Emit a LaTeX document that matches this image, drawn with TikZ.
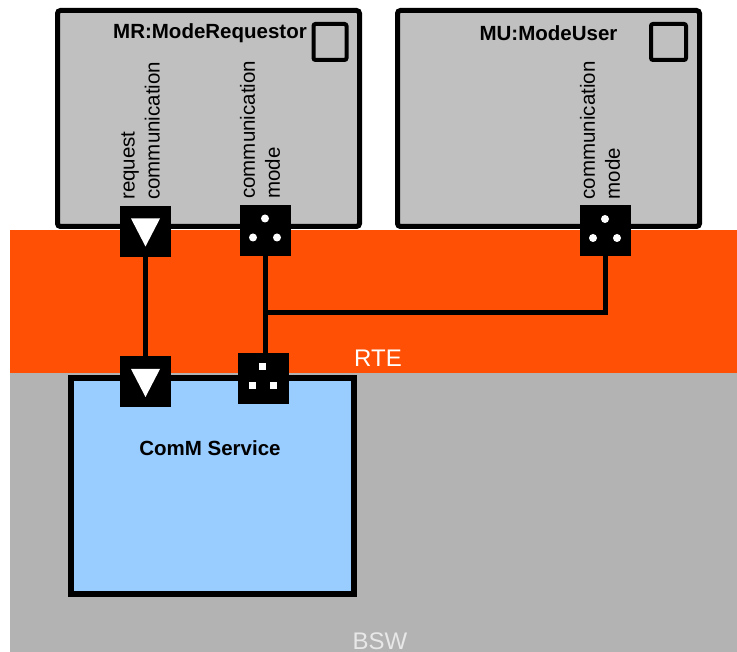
\documentclass[tikz,border=0pt]{standalone}
\usepackage{fontspec}
\setmainfont{Liberation Sans}
\usetikzlibrary{positioning,calc}
\definecolor{rteorange}{HTML}{FF5005}
\definecolor{bswgray}{HTML}{B3B3B3}
\definecolor{swcgray}{HTML}{C0C0C0}
\definecolor{commblue}{HTML}{99CCFF}
\definecolor{bswtext}{HTML}{E8E8E8}

\begin{document}
\begin{tikzpicture}[x=1pt, y=1pt,
    swc/.style={draw, line width=5pt, fill=swcgray, rounded corners=3pt, inner sep=0pt},
    port/.style={fill=black, minimum size=51pt, inner sep=0pt, outer sep=0pt},
    wire/.style={line width=5pt},
    title/.style={font=\fontsize{20.5}{25}\selectfont\bfseries, inner sep=0pt},
    portlab/.style={rotate=90, anchor=west, align=left, inner sep=0pt,
                    font=\fontsize{20.5}{25}\selectfont}]
  \useasboundingbox (0,0) rectangle (737,652);
  % layers
  \fill[bswgray] (10,0) rectangle (737,279);
  \fill[rteorange] (10,279) rectangle (737,422);
  \node[white, font=\fontsize{24}{28}\selectfont] (rte) at (378,294) {RTE};
  \node[bswtext, font=\fontsize{24}{28}\selectfont] (bsw) at (380,11) {BSW};
  % software components and the service
  \node[swc, minimum width=302pt, minimum height=216pt] (mr) at (208.5,533.5) {};
  \node[swc, minimum width=302pt, minimum height=216pt] (mu) at (548.5,533.5) {};
  \node[swc, fill=commblue, line width=6pt, rounded corners=0pt,
        minimum width=283pt, minimum height=216pt] (comm) at (212.5,166) {};
  \node[draw, line width=4pt, rounded corners=2pt, minimum width=33pt, minimum height=36pt,
        inner sep=0pt] (mrsym) at (330,610) {};
  \node[draw, line width=4pt, rounded corners=2pt, minimum width=35pt, minimum height=36pt,
        inner sep=0pt] (musym) at (668.5,610) {};
  \node[title] (mrtitle) at (210,619) {MR:ModeRequestor};
  \node[title] (mutitle) at (548.5,619) {MU:ModeUser};
  \node[title] (commtitle) at (210,204) {ComM Service};
  % ports
  \node[port] (mrrp) at (145.5,420.5) {};
  \node[port] (mrmp) at (265,421.5) {};
  \node[port] (mump) at (605,421) {};
  \node[port] (cmrp) at (145.5,270) {};
  \node[port] (cmmp) at (263.5,273.5) {};
  \foreach \p in {mrrp, cmrp}
    \fill[white] ($(\p)+(-14.5,13)$) -- ($(\p)+(14.5,13)$) -- ($(\p)+(0,-15)$) -- cycle;
  \foreach \p in {mrmp, mump} {
    \fill[white] ($(\p)+(0,12)$) circle (4);
    \fill[white] ($(\p)+(-12,-7)$) circle (4);
    \fill[white] ($(\p)+(12,-7)$) circle (4);
  }
  \foreach \dx/\dy in {-1/11.5, -11/-7.5, 10/-7.5}
    \fill[white] ($(cmmp)+(\dx,\dy)+(-3.5,-3.5)$) rectangle ++(7,7);
  % port labels
  \node[portlab] (mrrl) at ($(mrrp.north)+(-5,6)$) {request\\communication};
  \node[portlab] (mrml) at ($(mrmp.north)+(-5,6)$) {communication\\mode};
  \node[portlab] (muml) at ($(mump.north)+(-5,6)$) {communication\\mode};
  % connectors
  \coordinate (jn) at (mrmp |- 0,339);
  \draw[wire] (mrrp.south) -- (cmrp.north);
  \draw[wire] (mrmp.south) -- (mrmp.south |- cmmp.north);
  \draw[wire] (mump.south) |- (jn);
\end{tikzpicture}
\end{document}
